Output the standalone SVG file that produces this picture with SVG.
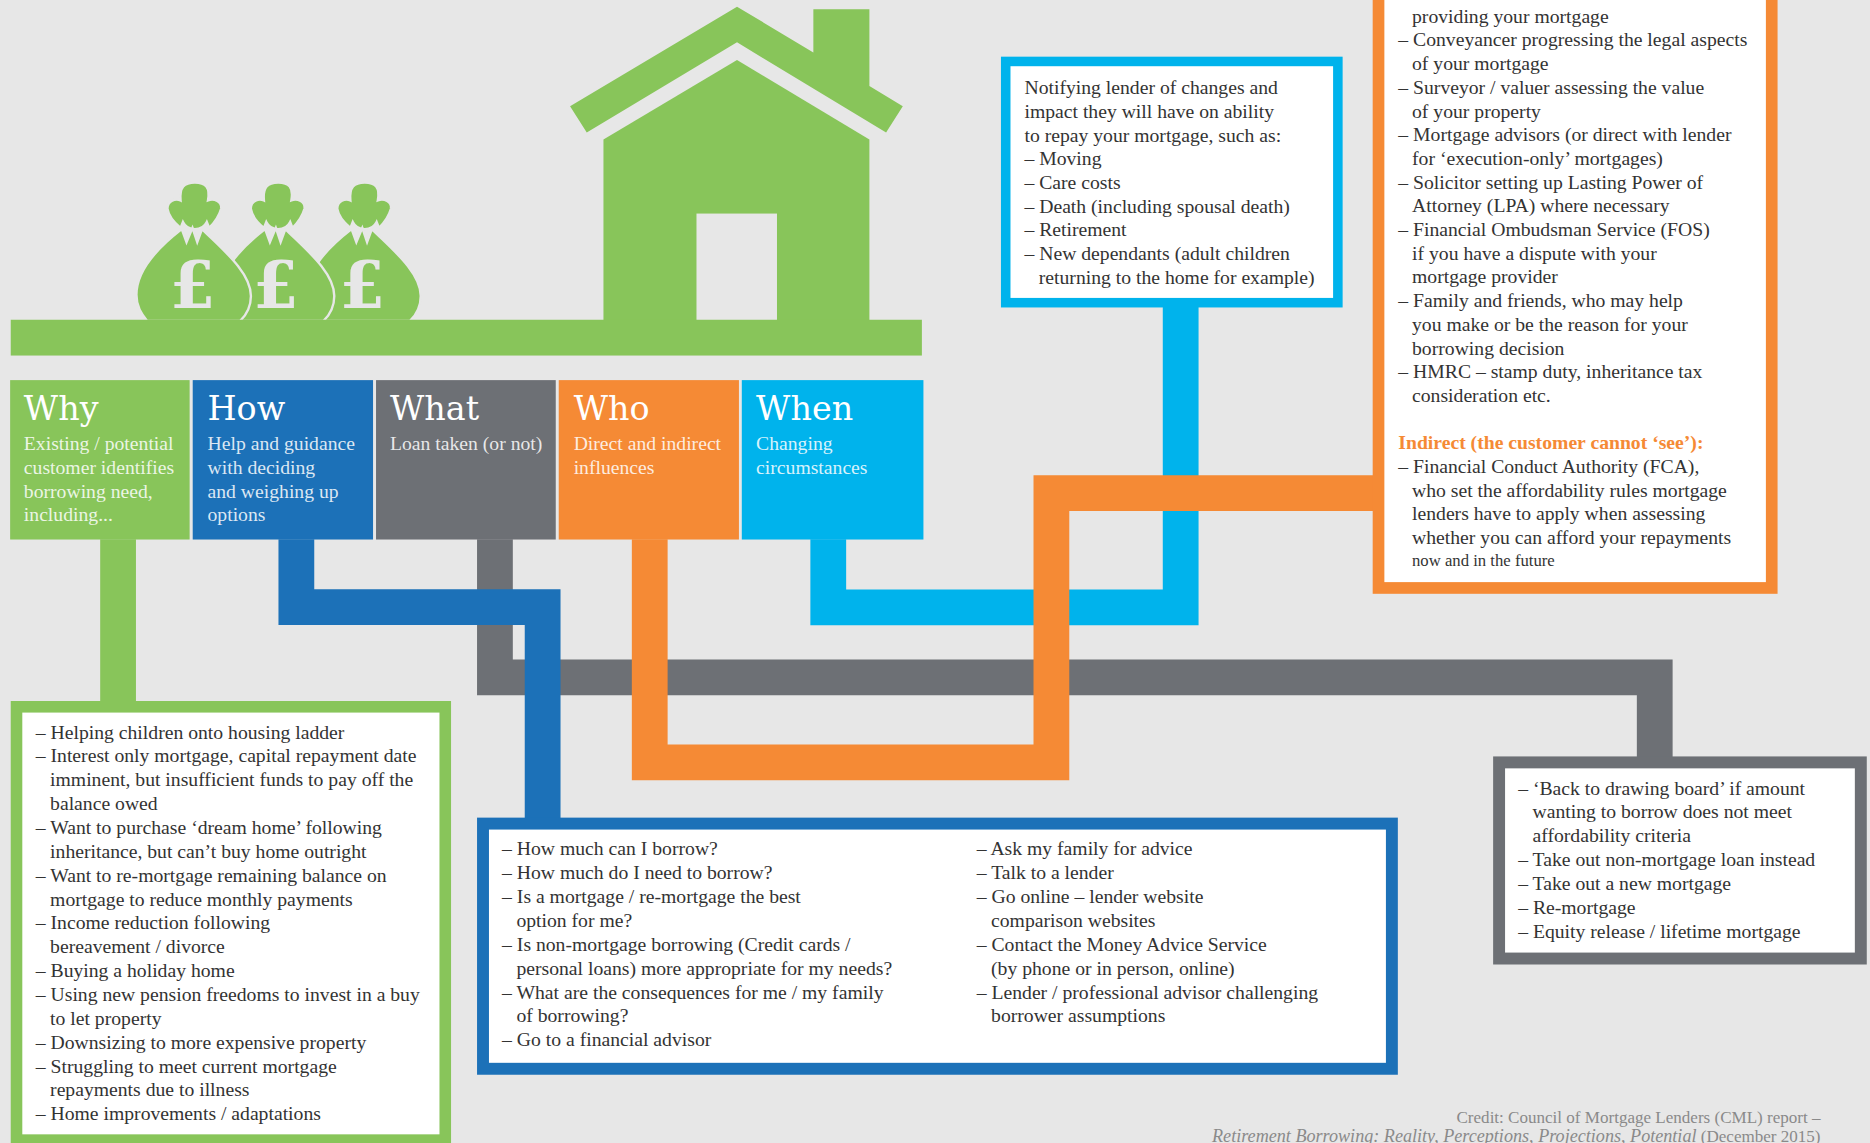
<svg xmlns="http://www.w3.org/2000/svg" xmlns:xlink="http://www.w3.org/1999/xlink" width="1870" height="1143" viewBox="0 0 1870 1143">
<style>
.t{font-family:"Liberation Serif","DejaVu Serif",serif;font-size:16.5px;fill:#333333}
.hd{font-family:"DejaVu Serif","Liberation Serif",serif;font-size:28px;fill:#ffffff}
.s{font-family:"Liberation Serif","DejaVu Serif",serif;font-size:16.5px;fill:#ffffff;fill-opacity:0.85}
.cr{font-family:"Liberation Serif","DejaVu Serif",serif;font-size:14.3px;fill:#8a8a8a}
.pd{font-family:"DejaVu Serif","Liberation Serif",serif;font-size:55px;font-weight:bold;fill:#e7e7e7;text-anchor:middle}
.con{fill:none;stroke-width:30;stroke-linejoin:miter;stroke-linecap:butt}
.box{fill:#ffffff}
.g{fill:#88c55a}
</style>
<defs>
<g id="bag">
<path d="M-12,15 C-13,4 -9,0 0,0 C9,0 13,4 11,15 C16,13 23,16 22,22 C20,29 16,34 12,38 L10,33 C8,37 5,39 0,39 C-5,39 -8,37 -10,33 L-12,38 C-17,34 -22,28 -23,22 C-23,15 -16,13 -12,15 Z"/>
<path d="M-11,39 L-7,50 L-2,38 L2,50 L6,39 C22,55 47,75 47,95 C47,104 44,110 38,116 L-40,116 C-45,110 -49,104 -49,94 C-49,74 -33,56 -11,39 Z"/>
</g>
</defs>
<rect x="0" y="0" width="1870" height="1143" fill="#e7e7e7"/>
<g transform="scale(1.1926 1.1931)">
<g id="illustration">
<g fill="#88c55a" stroke="#e7e7e7" stroke-width="2">
<use xlink:href="#bag" href="#bag" transform="translate(305.8,153)"/>
<use xlink:href="#bag" href="#bag" transform="translate(233.3,153)"/>
<use xlink:href="#bag" href="#bag" transform="translate(163.4,153)"/>
</g>
<text class="pd" x="161.4" y="258">£</text>
<text class="pd" x="231.3" y="258">£</text>
<text class="pd" x="303.8" y="258">£</text>
<path class="g" d="M618,5.6 L682,44 L682,7.8 L729,7.8 L729,72 L757,89 L743,111 L618,35.5 L492,111 L478,89 Z"/>
<path class="g" d="M618,50.3 L729,117 L729,268.5 L506,268.5 L506,117 Z"/>
<rect x="584" y="179" width="67.5" height="90" fill="#e7e7e7"/>
<rect class="g" x="9" y="268" width="764" height="30"/>
</g>
<g id="connectors">
<path class="con" stroke="#6d7075" d="M415,452 V567.8 H1387.5 V640"/>
<path class="con" stroke="#00b3ec" d="M694.5,452 V509 H990 V254"/>
<path class="con" stroke="#1c71b8" d="M248.5,452 V508.8 H455 V690"/>
<path class="con" stroke="#f58a35" d="M544.8,452 V639 H881.6 V413.4 H1156"/>
<path class="con" stroke="#88c55a" d="M99,452 V592"/>
</g>
<g id="why">
<rect x="8.5" y="318.6" width="150.5" height="133.6" fill="#88c55a"/>
<text class="hd" x="20" y="352">Why</text>
<text class="s"><tspan x="20" y="377">Existing / potential</tspan><tspan x="20" y="397">customer identifies</tspan><tspan x="20" y="417">borrowing need,</tspan><tspan x="20" y="437">including...</tspan></text>
</g>
<g id="how">
<rect x="161.6" y="318.6" width="151.2" height="133.6" fill="#1c71b8"/>
<text class="hd" x="174" y="352">How</text>
<text class="s"><tspan x="174" y="377">Help and guidance</tspan><tspan x="174" y="397">with deciding</tspan><tspan x="174" y="417">and weighing up</tspan><tspan x="174" y="437">options</tspan></text>
</g>
<g id="what">
<rect x="315.3" y="318.6" width="150.7" height="133.6" fill="#6d7075"/>
<text class="hd" x="327" y="352">What</text>
<text class="s"><tspan x="327" y="377">Loan taken (or not)</tspan></text>
</g>
<g id="who">
<rect x="468.5" y="318.6" width="151.1" height="133.6" fill="#f58a35"/>
<text class="hd" x="481" y="352">Who</text>
<text class="s"><tspan x="481" y="377">Direct and indirect</tspan><tspan x="481" y="397">influences</tspan></text>
</g>
<g id="when">
<rect x="622" y="318.6" width="152.3" height="133.6" fill="#00b3ec"/>
<text class="hd" x="634" y="352">When</text>
<text class="s"><tspan x="634" y="377">Changing</tspan><tspan x="634" y="397">circumstances</tspan></text>
</g>
<g id="when-details">
<rect class="box" x="843.3" y="51.5" width="278.5" height="202.2" stroke="#00b3ec" stroke-width="8"/>
<text class="t"><tspan x="859" y="79">Notifying lender of changes and</tspan><tspan x="859" y="98.9">impact they will have on ability</tspan><tspan x="859" y="118.7">to repay your mortgage, such as:</tspan><tspan x="859" y="138.6">– Moving</tspan><tspan x="859" y="158.4">– Care costs</tspan><tspan x="859" y="178.3">– Death (including spousal death)</tspan><tspan x="859" y="198.1">– Retirement</tspan><tspan x="859" y="218">– New dependants (adult children</tspan><tspan x="871" y="237.8">returning to the home for example)</tspan></text>
</g>
<g id="who-details">
<rect class="box" x="1155.9" y="-20" width="329.7" height="512.8" stroke="#f58a35" stroke-width="9.8"/>
<text class="t"><tspan x="1184" y="19">providing your mortgage</tspan><tspan x="1172.5" y="38.9">– Conveyancer progressing the legal aspects</tspan><tspan x="1184" y="58.75">of your mortgage</tspan><tspan x="1172.5" y="78.6">– Surveyor / valuer assessing the value</tspan><tspan x="1184" y="98.5">of your property</tspan><tspan x="1172.5" y="118.4">– Mortgage advisors (or direct with lender</tspan><tspan x="1184" y="138.25">for ‘execution-only’ mortgages)</tspan><tspan x="1172.5" y="158.1">– Solicitor setting up Lasting Power of</tspan><tspan x="1184" y="178">Attorney (LPA) where necessary</tspan><tspan x="1172.5" y="197.9">– Financial Ombudsman Service (FOS)</tspan><tspan x="1184" y="217.75">if you have a dispute with your</tspan><tspan x="1184" y="237.6">mortgage provider</tspan><tspan x="1172.5" y="257.5">– Family and friends, who may help</tspan><tspan x="1184" y="277.4">you make or be the reason for your</tspan><tspan x="1184" y="297.25">borrowing decision</tspan><tspan x="1172.5" y="317.1">– HMRC – stamp duty, inheritance tax</tspan><tspan x="1184" y="337">consideration etc.</tspan></text>
<text class="t" x="1172.5" y="376.6" style="fill:#f58a35;font-weight:bold">Indirect (the customer cannot ‘see’):</text>
<text class="t"><tspan x="1172.5" y="396.4">– Financial Conduct Authority (FCA),</tspan><tspan x="1184" y="416.3">who set the affordability rules mortgage</tspan><tspan x="1184" y="436.1">lenders have to apply when assessing</tspan><tspan x="1184" y="456">whether you can afford your repayments</tspan></text>
<text class="t" x="1184" y="474.4" style="font-size:14px">now and in the future</text>
</g>
<g id="why-details">
<rect class="box" x="13.85" y="592.4" width="359.5" height="363.2" stroke="#88c55a" stroke-width="9.7"/>
<text class="t"><tspan x="30" y="619">– Helping children onto housing ladder</tspan><tspan x="30" y="639">– Interest only mortgage, capital repayment date</tspan><tspan x="42" y="659">imminent, but insufficient funds to pay off the</tspan><tspan x="42" y="679">balance owed</tspan><tspan x="30" y="699">– Want to purchase ‘dream home’ following</tspan><tspan x="42" y="719">inheritance, but can’t buy home outright</tspan><tspan x="30" y="739">– Want to re-mortgage remaining balance on</tspan><tspan x="42" y="759">mortgage to reduce monthly payments</tspan><tspan x="30" y="779">– Income reduction following</tspan><tspan x="42" y="799">bereavement / divorce</tspan><tspan x="30" y="819">– Buying a holiday home</tspan><tspan x="30" y="839">– Using new pension freedoms to invest in a buy</tspan><tspan x="42" y="859">to let property</tspan><tspan x="30" y="879">– Downsizing to more expensive property</tspan><tspan x="30" y="899">– Struggling to meet current mortgage</tspan><tspan x="42" y="919">repayments due to illness</tspan><tspan x="30" y="939">– Home improvements / adaptations</tspan></text>
</g>
<g id="how-details">
<rect class="box" x="405" y="690.3" width="762.1" height="205.5" stroke="#1c71b8" stroke-width="10"/>
<text class="t"><tspan x="421" y="717">– How much can I borrow?</tspan><tspan x="421" y="737">– How much do I need to borrow?</tspan><tspan x="421" y="757">– Is a mortgage / re-mortgage the best</tspan><tspan x="433" y="777">option for me?</tspan><tspan x="421" y="797">– Is non-mortgage borrowing (Credit cards /</tspan><tspan x="433" y="817">personal loans) more appropriate for my needs?</tspan><tspan x="421" y="837">– What are the consequences for me / my family</tspan><tspan x="433" y="857">of borrowing?</tspan><tspan x="421" y="877">– Go to a financial advisor</tspan></text>
<text class="t"><tspan x="819" y="717">– Ask my family for advice</tspan><tspan x="819" y="737">– Talk to a lender</tspan><tspan x="819" y="757">– Go online – lender website</tspan><tspan x="831" y="777">comparison websites</tspan><tspan x="819" y="797">– Contact the Money Advice Service</tspan><tspan x="831" y="817">(by phone or in person, online)</tspan><tspan x="819" y="837">– Lender / professional advisor challenging</tspan><tspan x="831" y="857">borrower assumptions</tspan></text>
</g>
<g id="what-details">
<rect class="box" x="1257" y="639" width="303.3" height="164.4" stroke="#6d7075" stroke-width="10"/>
<text class="t"><tspan x="1273" y="666">– ‘Back to drawing board’ if amount</tspan><tspan x="1285" y="686">wanting to borrow does not meet</tspan><tspan x="1285" y="706">affordability criteria</tspan><tspan x="1273" y="726">– Take out non-mortgage loan instead</tspan><tspan x="1273" y="746">– Take out a new mortgage</tspan><tspan x="1273" y="766">– Re-mortgage</tspan><tspan x="1273" y="786">– Equity release / lifetime mortgage</tspan></text>
</g>
<g id="credit">
<text class="cr" x="1526.5" y="941.4" text-anchor="end">Credit: Council of Mortgage Lenders (CML) report –</text>
<text class="cr" x="1526.5" y="957.3" text-anchor="end"><tspan font-style="italic" style="font-size:15.2px">Retirement Borrowing: Reality, Perceptions, Projections, Potential</tspan> (December 2015)</text>
</g>
</g>
</svg>
